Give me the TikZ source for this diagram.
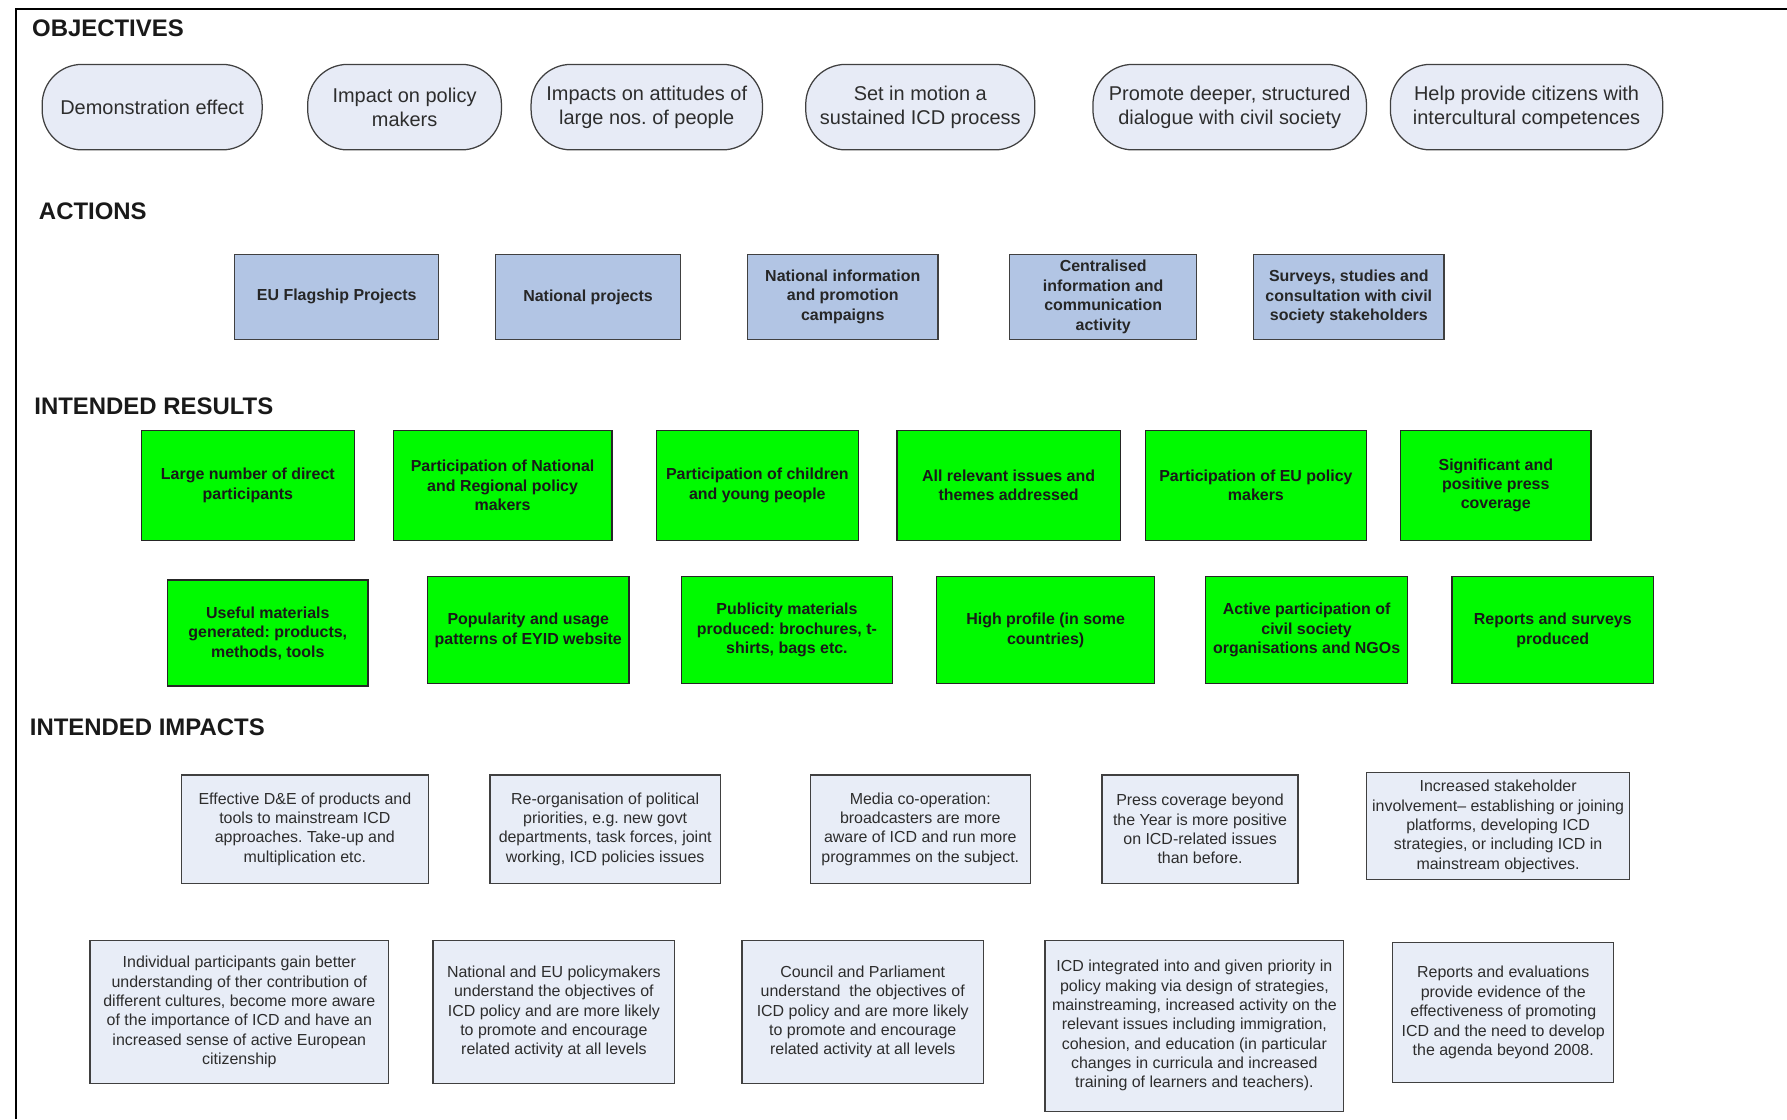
\documentclass[tikz,border=0pt]{standalone}
\usepackage{fontspec}
\setmainfont{Liberation Sans}
\frenchspacing
\definecolor{objfill}{RGB}{231,235,246}
\definecolor{actfill}{RGB}{178,197,228}
\definecolor{resfill}{RGB}{0,250,0}
\definecolor{impfill}{RGB}{232,237,247}
\definecolor{txtgrey}{RGB}{45,45,45}
\begin{document}
\begin{tikzpicture}[x=1pt,y=-1pt,
  obj/.style={draw=black!75, line width=1.1pt, fill=objfill, rounded corners=35pt,
    minimum height=75pt, align=center, text=txtgrey, inner sep=2pt,
    font=\fontsize{17.5}{21}\selectfont},
  act/.style={draw=black!75, line width=1.1pt, fill=actfill, minimum height=75pt,
    align=center, inner sep=2pt, text=black!85, font=\bfseries\fontsize{14}{17}\selectfont},
  res/.style={draw=black!85, line width=1.1pt, fill=resfill, align=center, inner sep=2pt,
    text=black!90, font=\bfseries\fontsize{14}{17}\selectfont},
  imp/.style={draw=black!75, line width=1.1pt, fill=impfill, align=center, inner sep=2pt,
    text=txtgrey, font=\fontsize{14}{17}\selectfont},
  hdr/.style={anchor=base west, inner sep=0pt, text=black!90, font=\bfseries\fontsize{21}{25}\selectfont}]
\useasboundingbox (0,0) rectangle (1568,982);
% frame
\coordinate (fbl) at (14,982);
\coordinate (ftl) at (14,8);
\coordinate (ftr) at (1568,8);
\draw[line width=2pt] (fbl) -- (ftl) -- (ftr);

% headers
\node[hdr] (hobj) at (28,32) {OBJECTIVES};
\node[hdr] (hact) at (34,193) {ACTIONS};
\node[hdr] (hres) at (30,364) {INTENDED RESULTS};
\node[hdr] (himp) at (26,645) {INTENDED IMPACTS};

% objectives
\node[obj, minimum width=193pt] (o1) at (133.5,94) {Demonstration effect};
\node[obj, minimum width=170pt] (o2) at (355,94) {Impact on policy\\makers};
\node[obj, minimum width=203pt] (o3) at (567.5,94) {Impacts on attitudes of\\large nos. of people};
\node[obj, minimum width=201pt] (o4) at (807.5,94) {Set in motion a\\sustained ICD process};
\node[obj, minimum width=240pt] (o5) at (1079,94) {Promote deeper, structured\\dialogue with civil society};
\node[obj, minimum width=239pt] (o6) at (1339.5,94) {Help provide citizens with\\intercultural competences};

% actions
\node[act, minimum width=179pt] (a1) at (295.5,260.5) {EU Flagship Projects};
\node[act, minimum width=162pt] (a2) at (516,260.5) {National projects};
\node[act, minimum width=167pt] (a3) at (739.5,260.5) {National information\\and promotion\\campaigns};
\node[act, minimum width=164pt] (a4) at (968,260.5) {Centralised\\information and\\communication\\activity};
\node[act, minimum width=167pt] (a5) at (1183.5,260.5) {Surveys, studies and\\consultation with civil\\society stakeholders};

% intended results, row 1
\node[res, minimum width=187pt, minimum height=96pt] (r1) at (217.5,426) {Large number of direct\\participants};
\node[res, minimum width=192pt, minimum height=96pt] (r2) at (441,426) {Participation of National\\and Regional policy\\makers};
\node[res, minimum width=177pt, minimum height=96pt] (r3) at (664.5,426) {Participation of children\\and young people};
\node[res, minimum width=196pt, minimum height=96pt] (r4) at (885,426) {All relevant issues and\\themes addressed};
\node[res, minimum width=194pt, minimum height=96pt] (r5) at (1102,426) {Participation of EU policy\\makers};
\node[res, minimum width=167pt, minimum height=96pt] (r6) at (1312.5,426) {Significant and\\positive press\\coverage};

% intended results, row 2
\node[res, minimum width=176pt, minimum height=93pt] (s1) at (235,555.5) {Useful materials\\generated: products,\\methods, tools};
\node[res, minimum width=177pt, minimum height=94pt] (s2) at (463.5,553) {Popularity and usage\\patterns of EYID website};
\node[res, minimum width=185pt, minimum height=94pt] (s3) at (690.5,553) {Publicity materials\\produced: brochures, t-\\shirts, bags etc.};
\node[res, minimum width=191pt, minimum height=94pt] (s4) at (917.5,553) {High profile (in some\\countries)};
\node[res, minimum width=177pt, minimum height=94pt] (s5) at (1146.5,553) {Active participation of\\civil society\\organisations and NGOs};
\node[res, minimum width=177pt, minimum height=94pt] (s6) at (1362.5,553) {Reports and surveys\\produced};

% intended impacts, row 1
\node[imp, minimum width=217pt, minimum height=95pt] (i1) at (267.5,727.5) {Effective D\&E of products and\\tools to mainstream ICD\\approaches. Take-up and\\multiplication etc.};
\node[imp, minimum width=202pt, minimum height=95pt] (i2) at (531,727.5) {Re-organisation of political\\priorities, e.g. new govt\\departments, task forces, joint\\working, ICD policies issues};
\node[imp, minimum width=193pt, minimum height=95pt] (i3) at (807.5,727.5) {Media co-operation:\\broadcasters are more\\aware of ICD and run more\\programmes on the subject.};
\node[imp, minimum width=172pt, minimum height=95pt] (i4) at (1053,727.5) {Press coverage beyond\\the Year is more positive\\on ICD-related issues\\than before.};
\node[imp, minimum width=231pt, minimum height=94pt] (i5) at (1314.5,725) {Increased stakeholder\\involvement-- establishing or joining\\platforms, developing ICD\\strategies, or including ICD in\\mainstream objectives.};

% intended impacts, row 2
\node[imp, minimum width=262pt, minimum height=126pt] (j1) at (210,888) {Individual participants gain better\\understanding of ther contribution of\\different cultures, become more aware\\of the importance of ICD and have an\\increased sense of active European\\citizenship};
\node[imp, minimum width=212pt, minimum height=126pt] (j2) at (486,888) {National and EU policymakers\\understand the objectives of\\ICD policy and are more likely\\to promote and encourage\\related activity at all levels};
\node[imp, minimum width=212pt, minimum height=126pt] (j3) at (757,888) {Council and Parliament\\understand\ \ the objectives of\\ICD policy and are more likely\\to promote and encourage\\related activity at all levels};
\node[imp, minimum width=262pt, minimum height=150pt] (j4) at (1048,900) {ICD integrated into and given priority in\\policy making via design of strategies,\\mainstreaming, increased activity on the\\relevant issues including immigration,\\cohesion, and education (in particular\\changes in curricula and increased\\training of learners and teachers).};
\node[imp, minimum width=194pt, minimum height=123pt] (j5) at (1319,888.5) {Reports and evaluations\\provide evidence of the\\effectiveness of promoting\\ICD and the need to develop\\the agenda beyond 2008.};
\end{tikzpicture}
\end{document}
